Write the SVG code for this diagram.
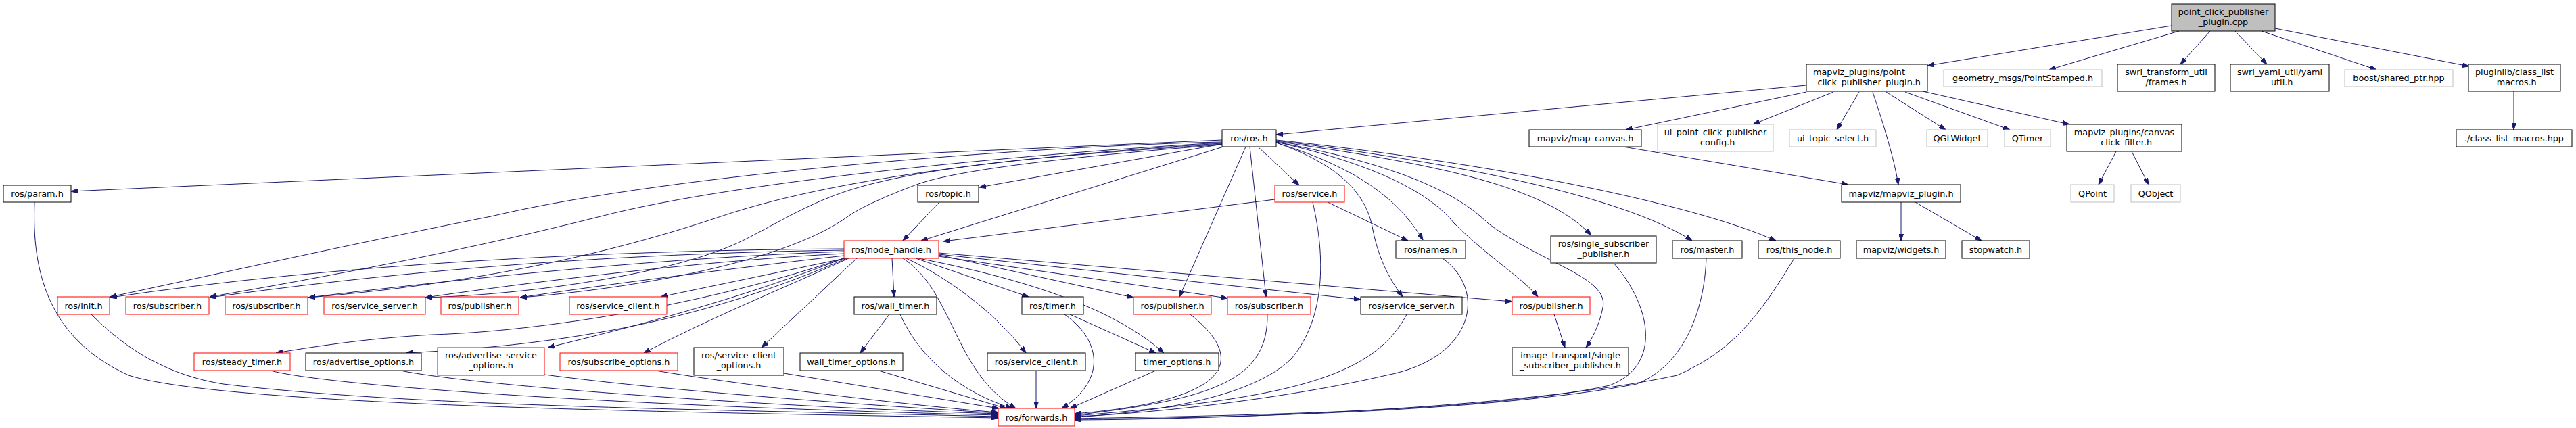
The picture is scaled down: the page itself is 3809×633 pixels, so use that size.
<svg xmlns="http://www.w3.org/2000/svg" width="3809" height="633" viewBox="0 0 3809 633">
<style>
.n rect{fill:#fff;stroke:#000;stroke-width:1}
.r rect{stroke:#ff0000}
.g rect{stroke:#bfbfbf}
.root rect{fill:#bfbfbf}
text{font-family:"DejaVu Sans","Liberation Sans",sans-serif;font-size:12.8px;text-anchor:middle;fill:#000}
.e path{fill:none;stroke:#191970;stroke-width:1;marker-end:url(#a)}
</style>
<defs>
<marker id="a" markerWidth="10" markerHeight="7" refX="10" refY="3.5" orient="auto" markerUnits="userSpaceOnUse"><path d="M0,0 L10,3.5 L0,7 z" fill="#191970" stroke="#191970"/></marker>
</defs>
<rect width="3809" height="633" fill="#fff"/>
<g class="e" id="edges">
<path d="M3211,38 L2850,97"/>
<path d="M3222,46 L3030,103"/>
<path d="M3268,46 L3224,95"/>
<path d="M3305,46 L3352,95"/>
<path d="M3344,46 L3514,103"/>
<path d="M3364,42 L3651,98"/>
<path d="M3717,135 L3717,192"/>
<path d="M2671,126 L1887,199"/>
<path d="M2671,136 L2404,192"/>
<path d="M2711,136 L2592,184"/>
<path d="M2749,136 L2716,192"/>
<path d="M2769,136 C2782,175 2800,230 2807,273"/>
<path d="M2789,136 L2877,192"/>
<path d="M2817,136 L2972,192"/>
<path d="M2843,135 L3060,184"/>
<path d="M2400,217 L2733,273"/>
<path d="M2811,299 L2811,356"/>
<path d="M2832,299 L2930,356"/>
<path d="M3129,224 L3103,273"/>
<path d="M3152,224 L3177,273"/>
<path d="M1807,207 L105,283"/>
<path d="M1807,213 L1448,277"/>
<path d="M1809,217 L1362,356"/>
<path d="M1860,217 L1921,274"/>
<path d="M1842,217 L1744,439"/>
<path d="M1848,217 L1872,439"/>
<path d="M1807,210 C1550,215 1000,255 726,320 C500,365 300,410 163,439"/>
<path d="M1807,211 C1550,225 1100,265 888,320 C700,368 480,410 310,439"/>
<path d="M1807,212 C1550,228 1250,258 1066,320 C900,376 700,420 456,440"/>
<path d="M1807,213 C1600,228 1400,240 1270,277 C1200,297 1150,330 1100,355 C1000,405 780,436 629,440"/>
<path d="M1807,214 C1600,230 1420,250 1358,272 C1320,286 1275,305 1254,320 C1150,395 900,430 769,440"/>
<path d="M1887,211 C1980,240 2060,280 2104,355"/>
<path d="M1887,211 C1970,240 2020,280 2030,340 C2040,390 2060,420 2074,439"/>
<path d="M1887,210 C2020,240 2110,280 2150,330 C2200,380 2250,410 2274,439"/>
<path d="M1887,210 C2050,240 2150,280 2200,330 C2280,390 2380,410 2370,455 C2365,480 2355,500 2345,514"/>
<path d="M1887,209 C2100,240 2280,270 2353,348"/>
<path d="M1887,208 C2150,240 2400,290 2502,356"/>
<path d="M1887,207 C2200,240 2500,300 2626,356"/>
<path d="M1389,299 L1335,356"/>
<path d="M1885,295 L1395,357"/>
<path d="M1963,299 L2082,356"/>
<path d="M1335,382 C1410,430 1410,550 1502,604"/>
<path d="M1319,382 L1322,439"/>
<path d="M1354,382 L1521,439"/>
<path d="M1340,382 C1400,410 1470,460 1517,522"/>
<path d="M1358,382 C1500,410 1640,450 1721,522"/>
<path d="M1388,377 L1676,440"/>
<path d="M1388,379 L1815,441"/>
<path d="M1388,376 L2012,443"/>
<path d="M1388,374 L2236,446"/>
<path d="M1267,382 L1126,514"/>
<path d="M1255,382 C1150,430 1050,470 952,522"/>
<path d="M1250,381 C1100,440 950,480 810,514"/>
<path d="M1250,382 L977,439"/>
<path d="M1248,378 C1100,395 900,420 769,440"/>
<path d="M1248,375 C1050,385 800,415 629,440"/>
<path d="M1248,372 C1000,380 700,410 456,440"/>
<path d="M1248,370 C900,375 600,400 310,440"/>
<path d="M1248,368 C900,370 500,390 163,440"/>
<path d="M1250,381 C1050,450 800,490 640,495 C550,500 480,510 408,522"/>
<path d="M1252,382 C1050,470 850,510 600,522"/>
<path d="M51,299 C47,400 70,500 190,555 C330,600 1000,610 1476,618"/>
<path d="M135,465 C190,520 250,555 330,568 C600,600 1000,605 1476,616"/>
<path d="M400,548 C480,570 900,600 1476,614"/>
<path d="M592,548 C700,570 1100,600 1476,612"/>
<path d="M805,554 C1000,580 1300,600 1476,611"/>
<path d="M969,548 C1100,570 1350,600 1476,610"/>
<path d="M1159,552 C1300,575 1420,595 1477,604"/>
<path d="M1299,548 L1488,604"/>
<path d="M1331,465 C1360,530 1420,580 1497,604"/>
<path d="M1532,548 L1532,604"/>
<path d="M1574,465 C1625,500 1640,560 1570,604"/>
<path d="M1709,548 L1582,604"/>
<path d="M1582,465 L1709,522"/>
<path d="M1315,465 L1272,522"/>
<path d="M1760,465 C1830,520 1850,590 1589,612"/>
<path d="M1874,465 C1875,560 1800,590 1589,614"/>
<path d="M2080,465 C2030,560 1900,590 1589,615"/>
<path d="M2133,382 C2200,430 2180,530 2050,555 C1900,590 1700,612 1589,616"/>
<path d="M1941,299 C1960,380 1960,470 1910,530 C1850,590 1700,610 1589,617"/>
<path d="M2386,389 C2440,450 2460,540 2380,570 C2200,610 1800,615 1589,619"/>
<path d="M2523,382 C2520,460 2490,540 2420,568 C2200,610 1800,618 1589,620"/>
<path d="M2653,382 C2600,470 2560,520 2480,555 C2250,605 1800,620 1589,621"/>
<path d="M2298,465 L2314,514"/>
</g>
<g class="n root" id="n_root"><rect x="3211" y="6" width="153" height="40"/><text x="3287.5" y="22">point_click_publisher</text><text x="3287.5" y="37">_plugin.cpp</text></g>
<g class="n" id="n_pcpp"><rect x="2671" y="95" width="179" height="40"/><text x="2749" y="111">mapviz_plugins/point</text><text x="2760.5" y="126">_click_publisher_plugin.h</text></g>
<g class="n g" id="n_geo"><rect x="2874" y="103" width="234" height="25"/><text x="2991" y="120">geometry_msgs/PointStamped.h</text></g>
<g class="n" id="n_frames"><rect x="3131" y="95" width="144" height="40"/><text x="3203" y="111">swri_transform_util</text><text x="3203" y="126">/frames.h</text></g>
<g class="n" id="n_yaml"><rect x="3298" y="95" width="146" height="40"/><text x="3371" y="111">swri_yaml_util/yaml</text><text x="3371" y="126">_util.h</text></g>
<g class="n g" id="n_boost"><rect x="3467" y="103" width="160" height="25"/><text x="3547" y="120">boost/shared_ptr.hpp</text></g>
<g class="n" id="n_pluginlib"><rect x="3650" y="95" width="136" height="40"/><text x="3718" y="111">pluginlib/class_list</text><text x="3718" y="126">_macros.h</text></g>
<g class="n" id="n_clm"><rect x="3632" y="192" width="171" height="25"/><text x="3717.5" y="209">./class_list_macros.hpp</text></g>
<g class="n g" id="n_uipc"><rect x="2451" y="184" width="171" height="40"/><text x="2536.5" y="200">ui_point_click_publisher</text><text x="2536.5" y="215">_config.h</text></g>
<g class="n g" id="n_uits"><rect x="2646" y="192" width="128" height="25"/><text x="2710" y="209">ui_topic_select.h</text></g>
<g class="n g" id="n_qgl"><rect x="2849" y="192" width="90" height="25"/><text x="2894" y="209">QGLWidget</text></g>
<g class="n g" id="n_qtimer"><rect x="2964" y="192" width="68" height="25"/><text x="2998" y="209">QTimer</text></g>
<g class="n" id="n_ccf"><rect x="3056" y="184" width="170" height="40"/><text x="3141" y="200">mapviz_plugins/canvas</text><text x="3141" y="215">_click_filter.h</text></g>
<g class="n" id="n_mapcanvas"><rect x="2261" y="192" width="166" height="25"/><text x="2344" y="209">mapviz/map_canvas.h</text></g>
<g class="n" id="n_mvplugin"><rect x="2723" y="273" width="176" height="26"/><text x="2811" y="290.5">mapviz/mapviz_plugin.h</text></g>
<g class="n g" id="n_qpoint"><rect x="3062" y="273" width="64" height="26"/><text x="3094" y="290.5">QPoint</text></g>
<g class="n g" id="n_qobject"><rect x="3151" y="273" width="73" height="26"/><text x="3187.5" y="290.5">QObject</text></g>
<g class="n" id="n_ros"><rect x="1807" y="192" width="80" height="25"/><text x="1847" y="209">ros/ros.h</text></g>
<g class="n" id="n_topic"><rect x="1357" y="274" width="90" height="25"/><text x="1402" y="291">ros/topic.h</text></g>
<g class="n r" id="n_service"><rect x="1885" y="274" width="103" height="25"/><text x="1936.5" y="291">ros/service.h</text></g>
<g class="n" id="n_param"><rect x="5" y="274" width="100" height="25"/><text x="55" y="291">ros/param.h</text></g>
<g class="n r" id="n_nh"><rect x="1248" y="356" width="140" height="26"/><text x="1318" y="373.5">ros/node_handle.h</text></g>
<g class="n" id="n_names"><rect x="2064" y="356" width="103" height="26"/><text x="2115.5" y="373.5">ros/names.h</text></g>
<g class="n" id="n_ssp"><rect x="2293" y="349" width="156" height="40"/><text x="2371" y="365">ros/single_subscriber</text><text x="2371" y="380">_publisher.h</text></g>
<g class="n" id="n_master"><rect x="2473" y="356" width="103" height="26"/><text x="2524.5" y="373.5">ros/master.h</text></g>
<g class="n" id="n_thisnode"><rect x="2600" y="356" width="121" height="26"/><text x="2660.5" y="373.5">ros/this_node.h</text></g>
<g class="n" id="n_widgets"><rect x="2745" y="356" width="132" height="26"/><text x="2811" y="373.5">mapviz/widgets.h</text></g>
<g class="n" id="n_stopwatch"><rect x="2901" y="356" width="100" height="26"/><text x="2951" y="373.5">stopwatch.h</text></g>
<g class="n r" id="n_init"><rect x="85" y="439" width="77" height="26"/><text x="123.5" y="456.5">ros/init.h</text></g>
<g class="n r" id="n_sub1"><rect x="186" y="439" width="123" height="26"/><text x="247.5" y="456.5">ros/subscriber.h</text></g>
<g class="n r" id="n_sub2"><rect x="333" y="439" width="122" height="26"/><text x="394" y="456.5">ros/subscriber.h</text></g>
<g class="n r" id="n_ss1"><rect x="479" y="439" width="150" height="26"/><text x="554" y="456.5">ros/service_server.h</text></g>
<g class="n r" id="n_pub1"><rect x="652" y="439" width="115" height="26"/><text x="709.5" y="456.5">ros/publisher.h</text></g>
<g class="n r" id="n_sc1"><rect x="842" y="439" width="144" height="26"/><text x="914" y="456.5">ros/service_client.h</text></g>
<g class="n" id="n_wt"><rect x="1263" y="439" width="122" height="26"/><text x="1324" y="456.5">ros/wall_timer.h</text></g>
<g class="n" id="n_timer"><rect x="1511" y="439" width="91" height="26"/><text x="1556.5" y="456.5">ros/timer.h</text></g>
<g class="n r" id="n_pub2"><rect x="1676" y="439" width="115" height="26"/><text x="1733.5" y="456.5">ros/publisher.h</text></g>
<g class="n r" id="n_sub3"><rect x="1815" y="439" width="123" height="26"/><text x="1876.5" y="456.5">ros/subscriber.h</text></g>
<g class="n" id="n_ss2"><rect x="2012" y="439" width="150" height="26"/><text x="2087" y="456.5">ros/service_server.h</text></g>
<g class="n r" id="n_pub3"><rect x="2236" y="439" width="115" height="26"/><text x="2293.5" y="456.5">ros/publisher.h</text></g>
<g class="n" id="n_itssp"><rect x="2236" y="514" width="172" height="41"/><text x="2322" y="530">image_transport/single</text><text x="2322" y="545">_subscriber_publisher.h</text></g>
<g class="n r" id="n_steady"><rect x="287" y="522" width="142" height="26"/><text x="358" y="539.5">ros/steady_timer.h</text></g>
<g class="n" id="n_advopt"><rect x="452" y="522" width="171" height="26"/><text x="537.5" y="539.5">ros/advertise_options.h</text></g>
<g class="n r" id="n_advsvc"><rect x="647" y="514" width="158" height="41"/><text x="726" y="530">ros/advertise_service</text><text x="726" y="545">_options.h</text></g>
<g class="n r" id="n_subopt"><rect x="828" y="522" width="174" height="26"/><text x="915" y="539.5">ros/subscribe_options.h</text></g>
<g class="n" id="n_scopt"><rect x="1026" y="514" width="133" height="41"/><text x="1092.5" y="530">ros/service_client</text><text x="1092.5" y="545">_options.h</text></g>
<g class="n" id="n_wtopt"><rect x="1183" y="522" width="152" height="26"/><text x="1259" y="539.5">wall_timer_options.h</text></g>
<g class="n" id="n_sc2"><rect x="1460" y="522" width="145" height="26"/><text x="1532.5" y="539.5">ros/service_client.h</text></g>
<g class="n" id="n_topt"><rect x="1679" y="522" width="123" height="26"/><text x="1740.5" y="539.5">timer_options.h</text></g>
<g class="n r" id="n_fwd"><rect x="1476" y="604" width="113" height="26"/><text x="1532.5" y="621.5">ros/forwards.h</text></g>
</svg>
